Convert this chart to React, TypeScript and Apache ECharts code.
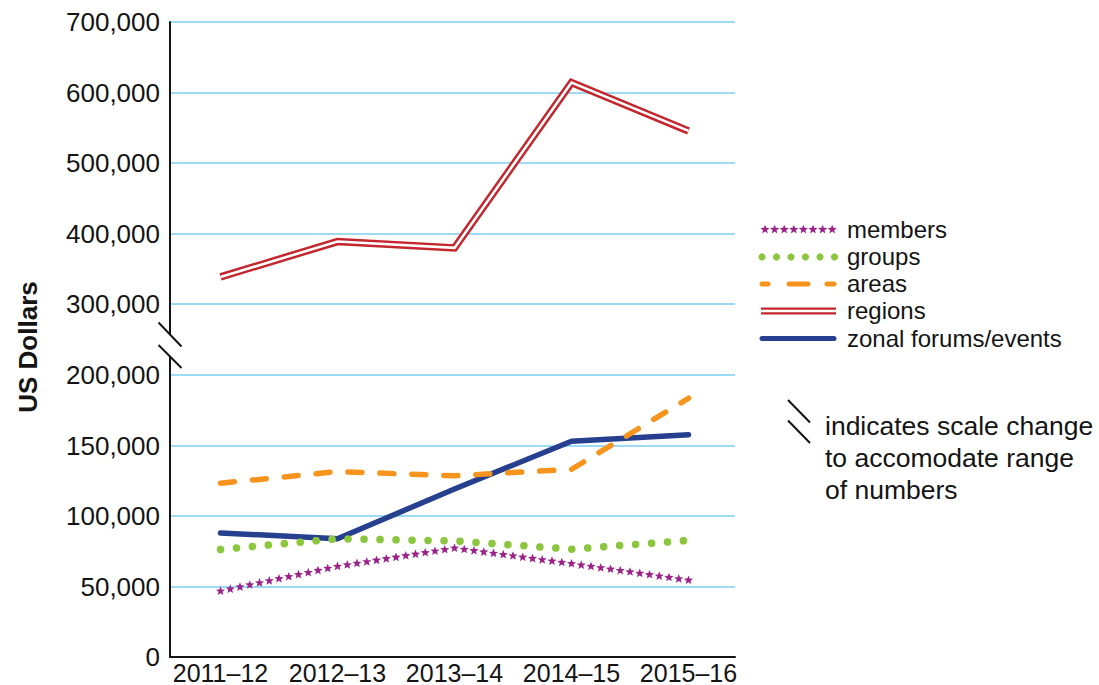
import React, { useEffect, useRef } from 'react';
import * as echarts from 'echarts';

// ---------- data ----------
const years = ['2011–12', '2012–13', '2013–14', '2014–15', '2015–16'];
const members = [45600, 63300, 76300, 65200, 53400];
const groups = [75400, 83000, 81500, 75600, 81800];
const areas = [122700, 131000, 128000, 132600, 183400];
const regions = [338400, 388600, 379600, 614200, 545500];
const zonal = [87200, 83000, 118600, 152700, 157400];

const upperMin = 300000;
const upperMax = 700000;
const upperStep = 100000;
const lowerMin = 0;
const lowerMax = 200000;
const lowerStep = 50000;

const legendLabels = ['members', 'groups', 'areas', 'regions', 'zonal forums/events'];
const noteLines = ['indicates scale change', 'to accomodate range', 'of numbers'];
const yTitle = 'US Dollars';

// ---------- style ----------
const FONT = '"Liberation Sans", Arial, Helvetica, sans-serif';
const INK = '#141414';
const GRID_BLUE = '#7ccff2';
const C_MEMBERS = '#9c2489';
const C_GROUPS = '#8cc63f';
const C_AREAS = '#f7941d';
const C_REGIONS = '#c4262e';
const C_ZONAL = '#26408f';
const STAR_GAP = 9.8;

function starPoints(cx: number, cy: number, R: number, r: number) {
  const pts: number[][] = [];
  for (let k = 0; k < 10; k++) {
    const a = -Math.PI / 2 + (k * Math.PI) / 5;
    const rad = k % 2 === 0 ? R : r;
    pts.push([cx + rad * Math.cos(a), cy + rad * Math.sin(a)]);
  }
  return pts;
}
function star(cx: number, cy: number) {
  return { type: 'polygon', shape: { points: starPoints(cx, cy, 4.8, 2.1) }, style: { fill: C_MEMBERS } };
}
function line(x1: number, y1: number, x2: number, y2: number, stroke: string, w: number, cap = 'butt') {
  return { type: 'line', shape: { x1, y1, x2, y2 }, style: { stroke, lineWidth: w, lineCap: cap }, silent: true };
}
function txt(x: number, y: number, text: string, size: number, extra: any = {}) {
  return {
    type: 'text',
    x,
    y,
    silent: true,
    rotation: extra.rotation || 0,
    style: {
      text,
      fontSize: size,
      fontFamily: FONT,
      fontWeight: extra.bold ? 'bold' : 'normal',
      fill: INK,
      align: extra.align || 'left',
      verticalAlign: 'middle',
      textAlign: extra.align || 'left',
      textVerticalAlign: 'middle',
    },
  };
}
const fmt = (v: number) => v.toLocaleString('en-US');

export default function App() {
  const ref = useRef<HTMLDivElement>(null);
  useEffect(() => {
    if (!ref.current) return;
    const chart = echarts.init(ref.current, null, { renderer: 'svg' });

    const frameY = (gi: number, min: number, max: number, step: number) => ({
      gridIndex: gi,
      type: 'value',
      min,
      max,
      interval: step,
      axisLine: { show: true, onZero: false, lineStyle: { color: INK, width: 2 } },
      axisTick: { show: false },
      axisLabel: { fontSize: 26, color: INK, fontFamily: FONT, margin: 10, formatter: fmt },
      splitLine: { show: true, lineStyle: { color: GRID_BLUE, width: 1.5 } },
    });

    // legend graphics
    const ly = [229.5, 257, 284, 311, 338.5];
    const legendG: any[] = [];
    for (let k = 0; k < 8; k++) legendG.push({ ...star(765 + k * 9.6, ly[0]), silent: true });
    for (let k = 0; k < 6; k++)
      legendG.push({ type: 'circle', shape: { cx: 762 + k * 14.5, cy: ly[1], r: 3.6 }, style: { fill: C_GROUPS }, silent: true });
    legendG.push(line(762, ly[2], 768, ly[2], C_AREAS, 5, 'round'));
    legendG.push(line(789, ly[2], 808, ly[2], C_AREAS, 5, 'round'));
    legendG.push(line(827, ly[2], 834, ly[2], C_AREAS, 5, 'round'));
    legendG.push(line(761, ly[3] - 2.4, 836, ly[3] - 2.4, C_REGIONS, 2.2));
    legendG.push(line(761, ly[3] + 2.4, 836, ly[3] + 2.4, C_REGIONS, 2.2));
    legendG.push(line(762, ly[4], 834, ly[4], C_ZONAL, 5, 'round'));
    legendLabels.forEach((l, i) => legendG.push(txt(847, ly[i] - 0.5, l, 24)));

    const option: any = {
      animation: false,
      backgroundColor: '#ffffff',
      grid: [
        { left: 170, top: 22, width: 565, height: 282 },
        { left: 170, top: 375, width: 565, height: 282 },
        { left: 162, top: 22, width: 585, height: 282 },
        { left: 162, top: 375, width: 585, height: 282 },
      ],
      xAxis: [
        { gridIndex: 0, type: 'value', min: 0, max: 1, show: false },
        {
          gridIndex: 1,
          type: 'value',
          min: 0,
          max: 1,
          axisLine: { show: true, onZero: false, lineStyle: { color: INK, width: 2 } },
          axisTick: { show: false },
          axisLabel: { show: false },
          splitLine: { show: false },
        },
        { gridIndex: 2, type: 'category', data: years, show: false },
        {
          gridIndex: 3,
          type: 'category',
          data: years,
          boundaryGap: true,
          axisLine: { show: false },
          axisTick: { show: false },
          splitLine: { show: false },
          axisLabel: { fontSize: 25, color: INK, fontFamily: FONT, margin: 5, interval: 0 },
        },
      ],
      yAxis: [
        frameY(0, upperMin, upperMax, upperStep),
        frameY(1, lowerMin, lowerMax, lowerStep),
        { gridIndex: 2, type: 'value', min: upperMin, max: upperMax, show: false },
        { gridIndex: 3, type: 'value', min: lowerMin, max: lowerMax, show: false },
      ],
      series: [
        {
          name: 'zonal forums/events',
          type: 'line',
          xAxisIndex: 3,
          yAxisIndex: 3,
          data: zonal,
          symbol: 'none',
          silent: true,
          lineStyle: { color: C_ZONAL, width: 5.5, cap: 'round', join: 'round' },
        },
        {
          name: 'regions',
          type: 'line',
          xAxisIndex: 2,
          yAxisIndex: 2,
          data: regions,
          symbol: 'none',
          silent: true,
          lineStyle: { color: C_REGIONS, width: 7.5, join: 'miter' },
        },
        {
          name: 'regions-inner',
          type: 'line',
          xAxisIndex: 2,
          yAxisIndex: 2,
          data: regions,
          symbol: 'none',
          silent: true,
          lineStyle: { color: '#ffffff', width: 2.6, join: 'miter' },
        },
        {
          name: 'areas',
          type: 'line',
          xAxisIndex: 3,
          yAxisIndex: 3,
          data: areas,
          symbol: 'none',
          silent: true,
          lineStyle: { color: C_AREAS, width: 5.5, type: [14, 18], cap: 'round', join: 'round' },
        },
        {
          name: 'groups',
          type: 'line',
          xAxisIndex: 3,
          yAxisIndex: 3,
          data: groups,
          symbol: 'none',
          silent: true,
          lineStyle: { color: C_GROUPS, width: 7.5, type: [0.1, 15.9], cap: 'round' },
        },
        {
          name: 'members',
          type: 'custom',
          xAxisIndex: 3,
          yAxisIndex: 3,
          silent: true,
          data: years.map((y, i) => [i, members[i]]),
          encode: { x: 0, y: 1 },
          renderItem: (params: any, api: any) => {
            const i = params.dataIndex;
            const p0 = api.coord([i, api.value(1)]);
            const children: any[] = [];
            if (i < members.length - 1) {
              const p1 = api.coord([i + 1, members[i + 1]]);
              const len = Math.hypot(p1[0] - p0[0], p1[1] - p0[1]);
              const n = Math.max(1, Math.round(len / STAR_GAP));
              for (let k = 0; k < n; k++) {
                const t = k / n;
                children.push(star(p0[0] + t * (p1[0] - p0[0]), p0[1] + t * (p1[1] - p0[1])));
              }
            } else {
              children.push(star(p0[0], p0[1]));
            }
            return { type: 'group', children };
          },
        },
      ],
      graphic: [
        // y title
        txt(28, 347, yTitle, 26, { rotation: Math.PI / 2, align: 'center', bold: true }),
        // axis break
        line(170, 303, 170, 334.5, INK, 2),
        line(170, 357, 170, 376, INK, 2),
        line(158.5, 322.5, 181.5, 346.5, INK, 2),
        line(158.5, 345, 181.5, 368, INK, 2),
        // legend
        ...legendG,
        // note
        line(788, 400, 810, 422.5, INK, 2),
        line(788, 420.5, 810, 443, INK, 2),
        ...noteLines.map((l, i) => txt(825, 426 + i * 32, l, 26.5)),
      ],
    };
    chart.setOption(option);
    return () => chart.dispose();
  }, []);
  return <div ref={ref} style={{ position: 'fixed', left: 0, top: 0, width: 1099, height: 685 }} />;
}
